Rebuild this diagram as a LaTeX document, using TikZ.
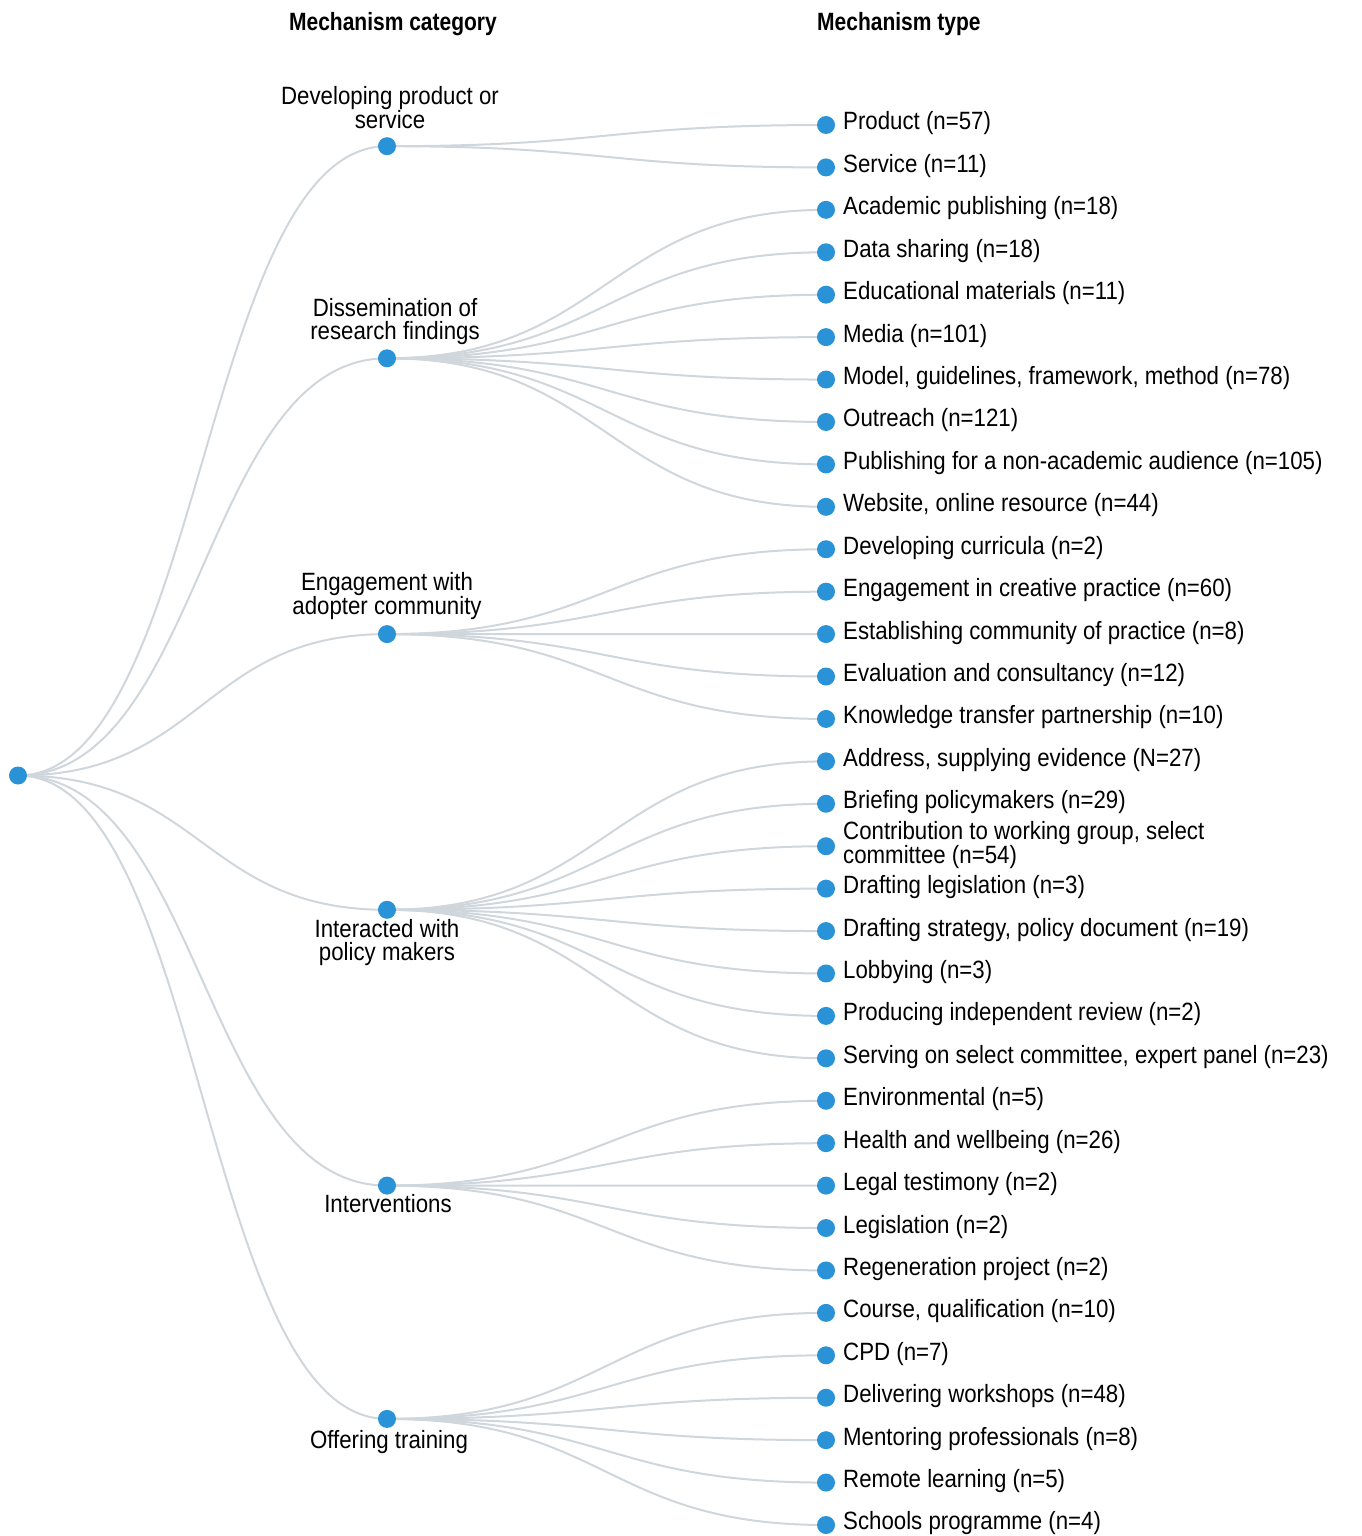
\documentclass[tikz,border=0pt]{standalone}
\usepackage{fontspec}
\setmainfont{Liberation Sans}[FakeStretch=0.89]
\newfontfamily\hdfont{Liberation Sans}[FakeStretch=0.84]
\usetikzlibrary{calc}
\pgfdeclarelayer{background}
\pgfsetlayers{background,main}
\definecolor{dotblue}{RGB}{42,146,214}
\definecolor{linkgray}{RGB}{207,214,220}
\begin{document}
\begin{tikzpicture}[x=1pt,y=-1pt,
  dot/.style={circle,fill=dotblue,inner sep=0pt,minimum size=18pt},
  link/.style={draw=linkgray,line width=2pt},
  leaflab/.style={anchor=west,inner sep=0pt,font=\fontsize{25}{23}\selectfont,align=left},
  catlab/.style={inner sep=0pt,font=\fontsize{25}{23}\selectfont,align=center},
  head/.style={inner sep=0pt,font=\hdfont\bfseries\fontsize{25}{25}\selectfont}]
\useasboundingbox (0,0) rectangle (1362,1536);

\node[head] (h1) at (393,24) {Mechanism category};
\node[head,anchor=west] (h2) at (817,24) {Mechanism type};

\foreach \i/\t in {
  0/{Product (n=57)},
  1/{Service (n=11)},
  2/{Academic publishing (n=18)},
  3/{Data sharing (n=18)},
  4/{Educational materials (n=11)},
  5/{Media (n=101)},
  6/{Model, guidelines, framework, method (n=78)},
  7/{Outreach (n=121)},
  8/{Publishing for a non-academic audience (n=105)},
  9/{Website, online resource (n=44)},
  10/{Developing curricula (n=2)},
  11/{Engagement in creative practice (n=60)},
  12/{Establishing community of practice (n=8)},
  13/{Evaluation and consultancy (n=12)},
  14/{Knowledge transfer partnership (n=10)},
  15/{Address, supplying evidence (N=27)},
  16/{Briefing policymakers (n=29)},
  17/{Contribution to working group, select\\committee (n=54)},
  18/{Drafting legislation (n=3)},
  19/{Drafting strategy, policy document (n=19)},
  20/{Lobbying (n=3)},
  21/{Producing independent review (n=2)},
  22/{Serving on select committee, expert panel (n=23)},
  23/{Environmental (n=5)},
  24/{Health and wellbeing (n=26)},
  25/{Legal testimony (n=2)},
  26/{Legislation (n=2)},
  27/{Regeneration project (n=2)},
  28/{Course, qualification (n=10)},
  29/{CPD (n=7)},
  30/{Delivering workshops (n=48)},
  31/{Mentoring professionals (n=8)},
  32/{Remote learning (n=5)},
  33/{Schools programme (n=4)}} {
  \node[dot] (l\i) at (826,{125+42.424*\i}) {};
  \node[leaflab] (t\i) at (843,{123.5+42.424*\i}) {\t};
}

\node[dot] (root) at (18,775.5) {};
\node[dot] (c1) at (387,146.2) {};
\node[dot] (c2) at (387,358.3) {};
\node[dot] (c3) at (387,634.1) {};
\node[dot] (c4) at (387,909.8) {};
\node[dot] (c5) at (387,1185.6) {};
\node[dot] (c6) at (387,1418.9) {};

\node[catlab,anchor=south] (lc1) at (390,129) {Developing product or\\service};
\node[catlab,anchor=south] (lc2) at (395,345) {Dissemination of\\research findings};
\node[catlab,anchor=south] (lc3) at (387,620) {Engagement with\\adopter community};
\node[catlab,anchor=north] (lc4) at (387,919) {Interacted with\\policy makers};
\node[catlab,anchor=north] (lc5) at (388,1194) {Interventions};
\node[catlab,anchor=north] (lc6) at (389,1430) {Offering training};

\begin{pgfonlayer}{background}
\foreach \c/\a/\b in {c1/0/1, c2/2/9, c3/10/14, c4/15/22, c5/23/27, c6/28/33} {
  \draw[link] (root.center) .. controls ($(root.center)!.5!(root.center -| \c.center)$) and ($(\c.center)!.5!(\c.center -| root.center)$) .. (\c.center);
  \foreach \j in {\a,...,\b} {
    \draw[link] (\c.center) .. controls ($(\c.center)!.5!(\c.center -| l\j.center)$) and ($(l\j.center)!.5!(l\j.center -| \c.center)$) .. (l\j.center);
  }
}
\end{pgfonlayer}
\end{tikzpicture}
\end{document}
